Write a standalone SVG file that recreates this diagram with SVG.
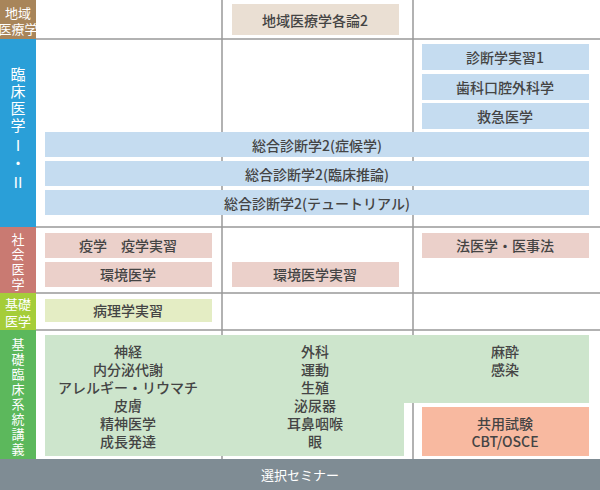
<svg xmlns="http://www.w3.org/2000/svg" width="600" height="490" viewBox="0 0 600 490">
<style>
text{font-family:"Noto Sans CJK JP","Noto Sans",sans-serif;}
.t{font-size:14px;font-weight:500;fill:#444;text-anchor:middle;dominant-baseline:central;}
.s{font-size:13px;fill:#fff;text-anchor:middle;dominant-baseline:central;}
.r{font-size:15px;fill:#fff;text-anchor:middle;dominant-baseline:central;font-family:"Liberation Serif","Noto Sans CJK JP",serif;}
.g{stroke:#999;stroke-width:1.5;fill:none;}
.blue{fill:#c5dcf0}.pink{fill:#ebd0ca}.tan{fill:#eadfd3}
</style>
<rect width="600" height="490" fill="#fff"/>
<g id="grid">
<line class="g" x1="222" y1="0" x2="222" y2="459"/>
<line class="g" x1="413" y1="0" x2="413" y2="459"/>
<line class="g" x1="36" y1="39" x2="600" y2="39"/>
<line class="g" x1="36" y1="227" x2="600" y2="227"/>
<line class="g" x1="36" y1="293" x2="600" y2="293"/>
<line class="g" x1="36" y1="330" x2="600" y2="330"/>
</g>
<g id="cat-chiiki"><rect x="0" y="0" width="36" height="39" fill="#a8855a"/>
<text class="s" x="18" y="12" font-size="10">地域</text>
<text class="s" x="18" y="28" font-size="10">医療学</text></g>
<g id="cat-rinsho"><rect x="0" y="39" width="36" height="188" fill="#2a9fd8"/>
<text class="r" x="18" y="75">臨</text><text class="r" x="18" y="92">床</text><text class="r" x="18" y="109">医</text><text class="r" x="18" y="126">学</text><text class="r" x="18" y="146">Ⅰ</text><text class="r" x="18" y="164">・</text><text class="r" x="18" y="183">Ⅱ</text></g>
<g id="cat-shakai"><rect x="0" y="227" width="36" height="66" fill="#c97a72"/>
<text class="s" x="18" y="238">社</text><text class="s" x="18" y="253">会</text><text class="s" x="18" y="268">医</text><text class="s" x="18" y="283">学</text></g>
<g id="cat-kiso"><rect x="0" y="293" width="36" height="37" fill="#a5cd39"/>
<text class="s" x="18" y="303">基礎</text><text class="s" x="18" y="320">医学</text></g>
<g id="cat-keito"><rect x="0" y="330" width="36" height="129" fill="#5cb85c"/>
<text class="s" x="18" y="343">基</text><text class="s" x="18" y="358">礎</text><text class="s" x="18" y="373">臨</text><text class="s" x="18" y="388">床</text><text class="s" x="18" y="403">系</text><text class="s" x="18" y="418">統</text><text class="s" x="18" y="433">講</text><text class="s" x="18" y="448">義</text></g>
<g id="seminar"><rect x="0" y="459" width="600" height="31" fill="#7f8c94"/><text class="s" x="300" y="474" font-size="15">選択セミナー</text></g>
<g id="n1"><rect class="tan" x="232" y="4" width="167" height="31"/><text class="t" x="315" y="20">地域医療学各論2</text></g>
<g id="n2"><rect class="blue" x="422" y="44" width="167" height="26"/><text class="t" x="505" y="57">診断学実習1</text></g>
<g id="n3"><rect class="blue" x="422" y="74" width="167" height="26"/><text class="t" x="505" y="87">歯科口腔外科学</text></g>
<g id="n4"><rect class="blue" x="422" y="103" width="167" height="26"/><text class="t" x="505" y="116">救急医学</text></g>
<g id="n5"><rect class="blue" x="45" y="132" width="544" height="25"/><text class="t" x="317" y="145">総合診断学2(症候学)</text></g>
<g id="n6"><rect class="blue" x="45" y="161" width="544" height="25"/><text class="t" x="317" y="174">総合診断学2(臨床推論)</text></g>
<g id="n7"><rect class="blue" x="45" y="190" width="544" height="25"/><text class="t" x="317" y="203">総合診断学2(テュートリアル)</text></g>
<g id="n8"><rect class="pink" x="45" y="233" width="167" height="25"/><text class="t" x="128" y="245">疫学　疫学実習</text></g>
<g id="n9"><rect class="pink" x="45" y="262" width="167" height="25"/><text class="t" x="128" y="274">環境医学</text></g>
<g id="n10"><rect class="pink" x="232" y="262" width="167" height="25"/><text class="t" x="315" y="274">環境医学実習</text></g>
<g id="n11"><rect class="pink" x="422" y="233" width="167" height="25"/><text class="t" x="505" y="245">法医学・医事法</text></g>
<g id="n12"><rect x="45" y="299" width="167" height="23" fill="#e4edc4"/><text class="t" x="128" y="310">病理学実習</text></g>
<g id="n13"><path d="M45 335H589V403H404V456H45Z" fill="#cde5cc"/>
<text class="t" x="128" y="351">神経</text><text class="t" x="128" y="369">内分泌代謝</text><text class="t" x="128" y="387">アレルギー・リウマチ</text><text class="t" x="128" y="405">皮膚</text><text class="t" x="128" y="423">精神医学</text><text class="t" x="128" y="441">成長発達</text>
<text class="t" x="315" y="351">外科</text><text class="t" x="315" y="369">運動</text><text class="t" x="315" y="387">生殖</text><text class="t" x="315" y="405">泌尿器</text><text class="t" x="315" y="423">耳鼻咽喉</text><text class="t" x="315" y="441">眼</text>
<text class="t" x="505" y="351">麻酔</text><text class="t" x="505" y="369">感染</text></g>
<g id="n14"><rect x="422" y="407" width="167" height="49" fill="#f8b9a0"/><text class="t" x="505" y="423">共用試験</text><text class="t" x="505" y="441">CBT/OSCE</text></g>
</svg>
